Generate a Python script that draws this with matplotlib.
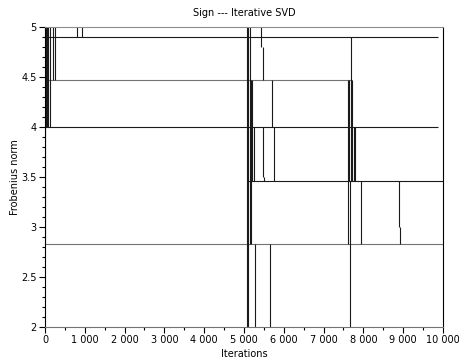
import matplotlib
matplotlib.use('Agg')
import matplotlib.pyplot as plt
from matplotlib.ticker import FuncFormatter, MultipleLocator
import numpy as np

# horizontal runs of the norm: level, first and last iteration
run_level = [2.83, 4.90, 4.47, 4.00, 3.46]
run_start = [0, 0, 0, 0, 5100]
run_end = [10000, 9870, 7720, 9870, 10000]

# jumps between levels: iteration, lower and upper norm
jump_iter = [0, 25, 50, 75, 125, 190, 250, 800, 930,
             5080, 5110, 5140, 5165, 5200, 5240, 5280, 5430, 5470, 5480,
             5500, 5650, 5700, 5760,
             7610, 7640, 7660, 7680, 7720, 7770, 7800, 7940, 8900, 8920]
jump_lo = [2.83, 4.00, 4.00, 4.00, 4.00, 4.47, 4.47, 4.90, 4.90,
           2.00, 2.00, 2.83, 2.83, 3.46, 3.46, 2.00, 4.80, 4.47, 3.50,
           3.46, 2.00, 4.00, 3.46,
           2.83, 3.46, 2.00, 3.46, 3.46, 3.46, 3.46, 2.83, 3.00, 2.83]
jump_hi = [5.30, 5.30, 5.30, 5.30, 5.30, 5.30, 5.30, 5.30, 5.30,
           5.30, 5.30, 5.30, 4.47, 4.47, 4.00, 2.83, 5.30, 4.80, 4.00,
           3.50, 2.83, 4.47, 4.00,
           4.47, 4.47, 3.46, 4.90, 4.47, 4.00, 4.00, 3.46, 3.46, 3.00]

fig = plt.figure(figsize=(4.59, 3.62), dpi=100)
ax = fig.add_axes([0.098, 0.097, 0.867, 0.828])

ax.hlines(run_level, run_start, run_end,
          colors=['0.45', '0.1', '0.45', '0.1', '0.1'], linewidth=0.8)
ax.vlines(jump_iter, jump_lo, jump_hi, colors='0.1', linewidth=0.8)

ax.set_xlim(0, 10000)
ax.set_ylim(2, 5)
ax.xaxis.set_major_locator(MultipleLocator(1000))
ax.xaxis.set_minor_locator(MultipleLocator(500))
ax.yaxis.set_major_locator(MultipleLocator(0.5))
ax.yaxis.set_minor_locator(MultipleLocator(0.1))
ax.xaxis.set_major_formatter(FuncFormatter(lambda v, p: '{:,.0f}'.format(v).replace(',', ' ')))
ax.yaxis.set_major_formatter(FuncFormatter(lambda v, p: '%g' % v))
ax.tick_params(which='major', direction='out', length=4, width=0.8, labelsize=7, pad=2)
ax.tick_params(which='minor', direction='out', length=2.5, width=0.8)
for s in ax.spines.values():
    s.set_linewidth(0.8)
ax.spines['top'].set_color('0.55')
ax.spines['bottom'].set_color('0.45')

ax.set_title('Sign --- Iterative SVD', fontsize=7, pad=8)
ax.set_xlabel('Iterations', fontsize=7, labelpad=3)
ax.set_ylabel('Frobenius norm', fontsize=7, labelpad=1)

plt.savefig('out.png', dpi=100)
